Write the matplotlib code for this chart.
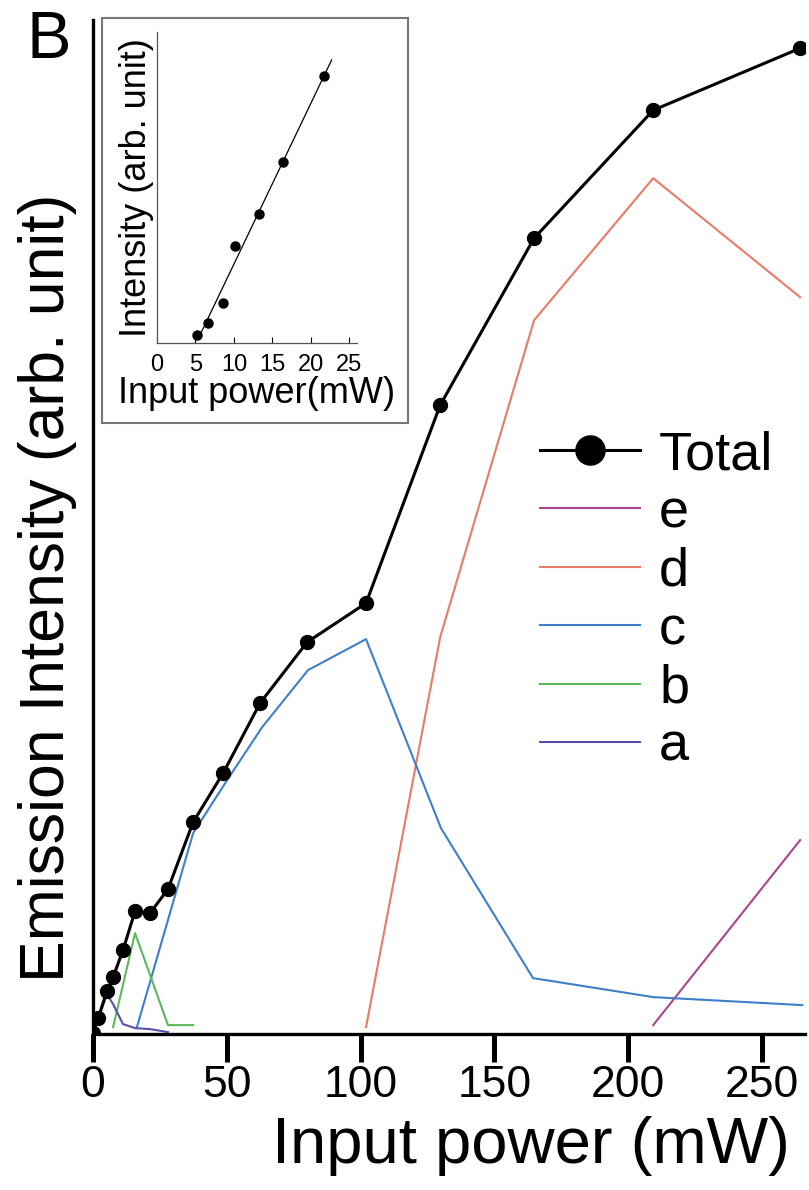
import numpy as np
import matplotlib
matplotlib.use('Agg')
import matplotlib.pyplot as plt
from matplotlib.patches import Rectangle

plt.rcParams['font.family'] = ['Liberation Sans', 'DejaVu Sans']

# --- data ---
total_x = [0, 1.9, 5.2, 7.5, 11.2, 15.7, 21.3, 28.0, 37.4, 48.6, 62.4, 80.0, 102.0, 129.7, 164.8, 209.3, 264.2]
total_y = [0.1, 1.6, 4.3, 5.7, 8.4, 12.3, 12.1, 14.5, 21.2, 26.1, 33.1, 39.2, 43.1, 62.9, 79.6, 92.4, 98.6]

a_x = [0, 1.9, 5.2, 7.5, 11.2, 15.7, 21.3, 28.0]
a_y = [0.1, 1.5, 4.0, 3.0, 1.0, 0.6, 0.5, 0.2]

b_x = [7.5, 15.7, 28.0, 37.4]
b_y = [0.7, 10.1, 0.9, 0.9]

c_x = [16.4, 37.4, 50.1, 63.2, 80.3, 102.0, 130.0, 164.4, 209.3, 265.0]
c_y = [0.7, 20.1, 25.4, 30.7, 36.4, 39.5, 20.6, 5.6, 3.7, 2.9]

d_x = [102.0, 129.7, 164.8, 209.3, 264.2]
d_y = [0.7, 39.7, 71.4, 85.6, 73.7]

e_x = [209.3, 264.2]
e_y = [0.9, 19.4]

inset_x = [5.2, 6.6, 8.6, 10.1, 13.2, 16.4, 21.7]
inset_y = [0.8, 2.0, 4.0, 9.7, 12.9, 18.1, 26.7]
fit_range = [5.6, 22.7]

x_ticks = [0, 50, 100, 150, 200, 250]
inset_ticks = [0, 5, 10, 15, 20, 25]

colors = {'a': '#5a4fa8', 'b': '#5cb85c', 'c': '#3f7fc8', 'd': '#e87a68', 'e': '#a8468c'}

# --- figure ---
fig = plt.figure(figsize=(8.09, 11.9), dpi=100)
ax = fig.add_axes([0.115, 0.131, 0.880, 0.852], zorder=0)

ax.plot(total_x, total_y, color='black', lw=2.2, marker='o', ms=10, label='Total', zorder=5)
ax.plot(e_x, e_y, color=colors['e'], lw=1.5, label='e')
ax.plot(d_x, d_y, color=colors['d'], lw=1.5, label='d')
ax.plot(c_x, c_y, color=colors['c'], lw=1.5, label='c')
ax.plot(b_x, b_y, color=colors['b'], lw=1.5, label='b')
ax.plot(a_x, a_y, color=colors['a'], lw=1.5, label='a')

ax.set_xlim(0, 266)
ax.set_ylim(0, 101.4)
ax.set_xticks(x_ticks)
ax.set_yticks([])
ax.tick_params(axis='x', direction='out', length=20, width=3.6, labelsize=32, pad=2)
for side in ['top', 'right']:
    ax.spines[side].set_visible(False)
for side in ['left', 'bottom']:
    ax.spines[side].set_linewidth(2.4)

ax.set_xlabel('Input power (mW)', fontsize=47)
ax.xaxis.set_label_coords(0.615, -0.081)
ax.set_ylabel('Emission Intensity (arb. unit)', fontsize=45)
ax.yaxis.set_label_coords(-0.022, 0.44)

leg = ax.legend(loc='upper left', bbox_to_anchor=(540 / 809, 1 - 430 / 1190),
                bbox_transform=fig.transFigure, frameon=False, fontsize=39,
                handlelength=1.85, handletextpad=0.35, labelspacing=0.155,
                borderpad=0, borderaxespad=0)
leg.legend_handles[0].set_markersize(21)

fig.text(27 / 809, 1 - 58 / 1190, 'B', fontsize=48, va='baseline', ha='left')

# inset frame
frame = Rectangle((102 / 809, 1 - 423 / 1190), 306 / 809, 405 / 1190,
                  transform=fig.transFigure, facecolor='white', edgecolor='#777777',
                  lw=1.5, zorder=1)
fig.patches.append(frame)

ins = fig.add_axes([157 / 809, 1 - 343 / 1190, 200 / 809, 311 / 1190], zorder=2)
ins.patch.set_alpha(0)
ins.plot(inset_x, inset_y, 'o', color='black', ms=6.5)
coef = np.polyfit(inset_x, inset_y, 1)
ins.plot(fit_range, np.polyval(coef, fit_range), color='black', lw=0.9)
ins.set_xlim(0, 26)
ins.set_ylim(0, 31.1)
ins.set_xticks(inset_ticks)
ins.set_yticks([])
ins.tick_params(axis='x', direction='in', length=4, width=0.8, labelsize=17, pad=8)
for side in ['top', 'right']:
    ins.spines[side].set_visible(False)
for side in ['left', 'bottom']:
    ins.spines[side].set_linewidth(0.9)
    ins.spines[side].set_color('#555555')
ins.set_xlabel('Input power(mW)', fontsize=26, labelpad=0)
ins.set_ylabel('Intensity (arb. unit)', fontsize=26, labelpad=2)

fig.savefig('out.png', dpi=100)
